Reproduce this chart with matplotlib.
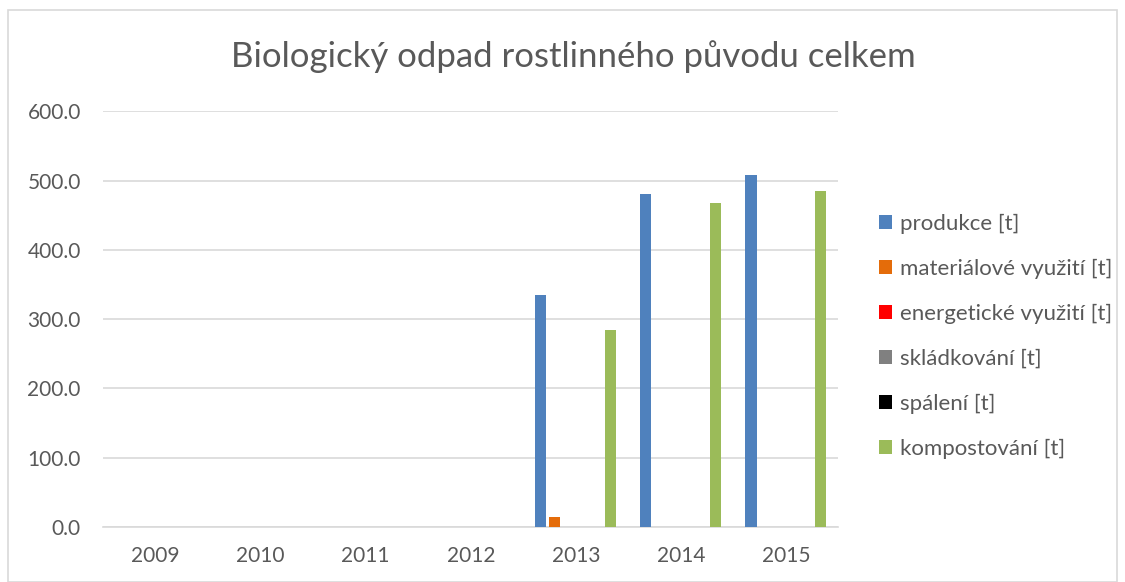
import matplotlib
matplotlib.use("Agg")
import matplotlib.pyplot as plt
import numpy as np
from matplotlib.patches import Rectangle

plt.rcParams['font.family'] = ['Lato', 'DejaVu Sans']

years = ["2009", "2010", "2011", "2012", "2013", "2014", "2015"]
series_names = ["produkce [t]", "materiálové využití [t]", "energetické využití [t]",
                "skládkování [t]", "spálení [t]", "kompostování [t]"]
produkce = [0, 0, 0, 0, 335, 481, 508]
materialove = [0, 0, 0, 0, 15, 0, 0]
energeticke = [0, 0, 0, 0, 0, 0, 0]
skladkovani = [0, 0, 0, 0, 0, 0, 0]
spaleni = [0, 0, 0, 0, 0, 0, 0]
kompostovani = [0, 0, 0, 0, 284, 468, 485]
colors = ["#4F81BD", "#E46C0A", "#FF0000", "#808080", "#000000", "#9BBB59"]

data = [produkce, materialove, energeticke, skladkovani, spaleni, kompostovani]

fig = plt.figure(figsize=(11.25, 5.82), dpi=100)
ax = fig.add_axes([0.0916, 0.0945, 0.6537, 0.714])

x = np.arange(len(years))
slot = 0.133
width = 0.105
for i, (vals, name, c) in enumerate(zip(data, series_names, colors)):
    offs = (i - 2.5) * slot
    ax.bar(x + offs, vals, width=width, color=c, label=name, zorder=3)

ax.set_xlim(-0.5, len(years) - 0.5)
ax.set_ylim(0, 600)
ax.set_yticks(np.arange(0, 601, 100))
ax.set_yticklabels([f"{v:.1f}" for v in np.arange(0, 601, 100)])
ax.set_xticks(x)
ax.set_xticklabels(years)
ax.grid(axis='y', color='#d9d9d9', linewidth=1.2, zorder=0)
for s in ['top', 'right', 'left']:
    ax.spines[s].set_visible(False)
ax.spines['bottom'].set_color('#d9d9d9')
ax.spines['bottom'].set_linewidth(1.2)
ax.tick_params(axis='both', length=0, labelsize=15, colors='#595959')
ax.tick_params(axis='y', pad=16)
ax.tick_params(axis='x', pad=14)

fig.text(0.51, 0.902, "Biologický odpad rostlinného původu celkem", ha='center', va='center',
         fontsize=25, color='#595959')

leg = ax.legend(loc='center left', bbox_to_anchor=(1.043, 0.4585), frameon=False,
                fontsize=16, handlelength=0.58, handleheight=0.58, handletextpad=0.35,
                labelspacing=1.12, labelcolor='#595959', borderaxespad=0)

fig.patches.append(Rectangle((0.007, 0.0), 0.986, 0.983, transform=fig.transFigure,
                             fill=False, edgecolor='#d9d9d9', linewidth=1.2))

fig.savefig("out.png", dpi=100, facecolor='white')
